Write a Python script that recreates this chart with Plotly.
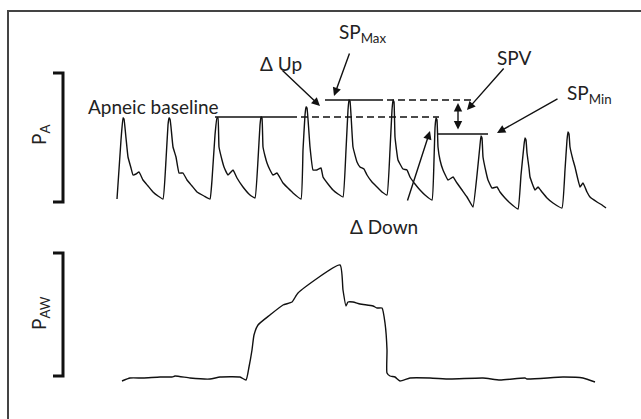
import plotly.graph_objects as go

# Arterial pressure trace (time units, pressure units; screen-like, larger = lower)
pa_x = [117,121,123,124,126,128,131,133,136,139,143,148,153,158,163,
        166,168,169,170,171,173,176,179,183,187,192,197,204,210,
        212,215,217,218,219,222,224,228,233,237,243,250,255,
        258,260,261,262,263,265,267,270,273,277,283,293,301,
        303,305,306,307,310,313,317,321,323,328,333,338,343,
        346,348,349,350,353,357,360,364,367,372,377,382,387,
        390,392,393,394,395,398,403,407,410,415,420,425,432,
        434,435,436,437,438,440,443,448,453,457,462,467,473,
        477,480,481,482,483,486,488,492,497,500,505,510,518,
        521,524,525,526,527,529,530,535,538,542,547,553,562,
        565,567,568,569,570,573,575,580,583,587,590,597,602,606]
pa_y = [199,140,118,119,138,157,168,175,174,172,180,186,192,196,199,
        160,125,118,119,127,147,157,173,173,180,186,192,196,199,
        180,135,118,118,147,160,167,175,170,178,187,195,198,
        160,125,117,118,147,156,163,170,175,173,183,193,199,
        150,115,107,108,147,170,170,168,177,184,190,194,197,
        150,110,100,101,147,162,167,169,175,182,187,192,195,
        150,110,100,102,137,160,169,170,177,184,190,195,200,
        160,128,118,120,147,160,170,180,177,183,190,197,207,
        175,145,136,138,157,172,180,188,187,192,198,203,209,
        175,145,138,140,153,168,177,190,187,192,198,203,208,
        170,140,132,134,147,160,167,187,183,192,197,202,205,208]

# Airway pressure trace
paw_x = [122,130,143,160,172,175,190,210,220,240,246,249,252,254,258,270,283,292,298,
         340,343,346,348,353,360,373,377,382,385,387,387,390,395,400,410,430,450,
         483,500,525,527,563,583,595]
paw_y = [381,378,378,377,377,376,378,379,377,377,380,367,350,335,325,315,305,302,293,
         265,290,306,302,302,304,306,308,308,323,350,373,376,377,381,378,378,379,
         378,380,378,379,377,378,382]

# Reference levels on the arterial trace
apneic_baseline = 117
sp_max = 100
sp_min = 134

labels = ["Apneic baseline", "Δ Up", "SP<sub>Max</sub>", "SPV", "SP<sub>Min</sub>", "Δ Down"]

ink = "#111111"
txt = "#222222"
font = "Lato"

fig = go.Figure()
fig.add_trace(go.Scatter(x=pa_x, y=pa_y, mode="lines",
                         line=dict(color=ink, width=1.4, shape="spline", smoothing=0.3),
                         hoverinfo="skip", showlegend=False))
fig.add_trace(go.Scatter(x=paw_x, y=paw_y, mode="lines",
                         line=dict(color=ink, width=1.4, shape="spline", smoothing=0.5),
                         hoverinfo="skip", showlegend=False))

shapes = []
# frame (top and left edge visible)
shapes.append(dict(type="path", path="M 8 425 L 8 11 L 650 11", xref="x", yref="y",
                   line=dict(color="#444444", width=2)))
# brackets
for top, bot in [(73, 202), (253, 376)]:
    shapes.append(dict(type="path", path=f"M 53 {top} L 63 {top} L 63 {bot} L 53 {bot}",
                       xref="x", yref="y", line=dict(color=ink, width=3)))
# level lines
solid = dict(color=ink, width=1.5)
dash = dict(color=ink, width=1.5, dash="7px,4px")
shapes += [
    dict(type="line", x0=215, x1=290, y0=apneic_baseline, y1=apneic_baseline, line=solid),
    dict(type="line", x0=290, x1=439, y0=apneic_baseline, y1=apneic_baseline, line=dash),
    dict(type="line", x0=325, x1=376, y0=sp_max, y1=sp_max, line=solid),
    dict(type="line", x0=376, x1=473, y0=sp_max, y1=sp_max, line=dash),
    dict(type="line", x0=437, x1=488, y0=sp_min, y1=sp_min, line=solid),
]

ann = []
def arrow(tx, ty, hx, hy, both=False):
    ann.append(dict(x=hx, y=hy, ax=tx, ay=ty, axref="x", ayref="y", xref="x", yref="y",
                    text="", showarrow=True, arrowhead=2, arrowsize=1.2, arrowwidth=1.4,
                    arrowcolor=ink, arrowside="end+start" if both else "end",
                    startarrowhead=2, startarrowsize=1.2))
arrow(281, 69, 320, 106)
arrow(350, 52, 334, 96)
arrow(505, 67, 467, 110)
arrow(559, 98, 497, 133)
arrow(407, 202, 430, 131)
arrow(458, 131, 458, 103, both=True)

def label(text, x, y, angle=0, size=19):
    ann.append(dict(x=x, y=y, xref="x", yref="y", text=text, showarrow=False,
                    textangle=angle, font=dict(family=font, size=size, color=txt),
                    xanchor="center", yanchor="middle"))
label(labels[0], 153, 106)
label(labels[1], 281, 63)
label(labels[2], 362, 33)
label(labels[3], 514, 57)
label(labels[4], 589, 94)
label(labels[5], 384, 226)
label("P<sub>A</sub>", 40, 135, angle=-90)
label("P<sub>AW</sub>", 40, 313, angle=-90)

fig.update_layout(width=641, height=419, margin=dict(l=0, r=0, t=0, b=0),
                  paper_bgcolor="white", plot_bgcolor="white",
                  shapes=shapes, annotations=ann,
                  xaxis=dict(range=[0, 641], visible=False, fixedrange=True),
                  yaxis=dict(range=[419, 0], visible=False, fixedrange=True))
fig.write_html("out.html", config={"displayModeBar": False},
               post_script="document.body.style.margin='0';document.body.style.overflow='hidden';")
